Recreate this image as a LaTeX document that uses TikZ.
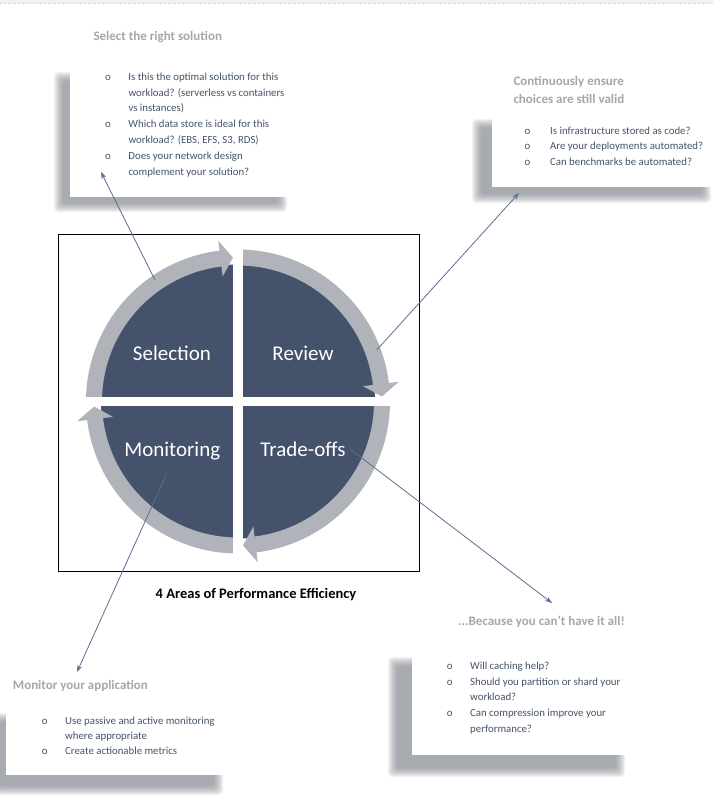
\documentclass[tikz,border=0pt]{standalone}
\usepackage{fontspec}
\setmainfont{Carlito}
\usetikzlibrary{arrows.meta}
\definecolor{darkq}{HTML}{45526B}
\definecolor{ringc}{HTML}{B0B3B9}
\definecolor{itemc}{HTML}{44546A}
\definecolor{titlec}{HTML}{A3A7AE}
\definecolor{connc}{HTML}{5C6E90}
\definecolor{shadc}{HTML}{80848C}
\definecolor{topband}{HTML}{EEF0F2}
\newcommand\mkshadow[4]{%
  \foreach \k in {0,...,9}{%
    \fill[shadc, opacity=0.1, rounded corners=4pt] (#1-5+\k, #2-5+\k) rectangle (#3+5-\k, #4+5-\k);
  }}
\newcommand\ringarrow[3]{%
  \fill[ringc] (#1:152pt) arc[start angle=#1, end angle=#2, radius=152pt]
     -- (#2:162pt) -- (#3:144pt) -- (#2:126pt) -- (#2:136pt)
     arc[start angle=#2, end angle=#1, radius=136pt] -- cycle;}
\tikzset{
  itemlist/.style={anchor=base west, inner sep=0pt, text=itemc, font=\fontsize{10.8}{15.8}\selectfont},
  cardtitle/.style={anchor=base west, inner sep=0pt, text=titlec, font=\bfseries\fontsize{13}{17.5}\selectfont},
  quadlabel/.style={anchor=base, inner sep=0pt, text=white, font=\fontsize{21}{24}\selectfont},
  conn/.style={draw=connc, line width=0.8pt, -{Stealth[length=7pt,width=5pt]}},
  card/.style={fill=white}
}
\begin{document}
\begin{tikzpicture}[x=1pt, y=-1pt]
\useasboundingbox (0,0) rectangle (713,809);
\fill[white] (0,0) rectangle (713,809);
% top band
\fill[topband] (0,0) rectangle (713,3);
\draw[dotted, gray!45, line width=0.5pt] (0,3.4) -- (713,3.4);

% shadows and cards
\mkshadow{59}{77}{282}{207}
\fill[card] (70,62) rectangle (300,197);
\mkshadow{477}{124}{706}{198}
\fill[card] (492,110) rectangle (713,187);
\mkshadow{393}{662}{620}{772}
\fill[card] (412,640) rectangle (650,755);
\mkshadow{-4}{718}{218}{790}
\fill[card] (6,700) rectangle (240,775);

% titles
\node[cardtitle] (tlTitle) at (93.3,40) {Select the right solution};
\node[cardtitle] (trTitle) at (513.3,85.5) {\begin{tabular}[t]{@{}l@{}}Continuously ensure\\choices are still valid\end{tabular}};
\node[cardtitle] (brTitle) at (458,625.5) {...Because you can’t have it all!};
\node[cardtitle] (blTitle) at (12.7,689) {Monitor your application};

% item lists
\node[itemlist] (tlItems) at (105,80.2) {\begin{tabular}[t]{@{}p{23.3pt}@{}l@{}}
o & Is this the optimal solution for this\\
  & workload? (serverless vs containers\\
  & vs instances)\\
o & Which data store is ideal for this\\
  & workload? (EBS, EFS, S3, RDS)\\
o & Does your network design\\
  & complement your solution?
\end{tabular}};
\node[itemlist] (trItems) at (524.5,134) {\begin{tabular}[t]{@{}p{25.5pt}@{}l@{}}
o & Is infrastructure stored as code?\\
o & Are your deployments automated?\\
o & Can benchmarks be automated?
\end{tabular}};
\node[itemlist] (brItems) at (446.7,669.2) {\begin{tabular}[t]{@{}p{23.3pt}@{}l@{}}
o & Will caching help?\\
o & Should you partition or shard your\\
  & workload?\\
o & Can compression improve your\\
  & performance?
\end{tabular}};
\node[itemlist, font=\fontsize{10.8}{15.2}\selectfont] (blItems) at (41.7,724.2) {\begin{tabular}[t]{@{}p{23.3pt}@{}l@{}}
o & Use passive and active monitoring\\
  & where appropriate\\
o & Create actionable metrics
\end{tabular}};

% frame
\draw[black, line width=0.9pt] (58.5,234.5) rectangle (419,571);

% circle
\begin{scope}[shift={(238,401.5)}]
  \fill[darkq] (0pt,0pt) circle[radius=137pt];
  \ringarrow{180}{97}{92}
  \ringarrow{90}{7}{2}
  \ringarrow{0}{-83}{-88}
  \ringarrow{-90}{-173}{-178}
  \fill[white] (-5pt,-166pt) rectangle (5pt,166pt);
  \fill[white] (-166pt,-4.7pt) rectangle (166pt,4.7pt);
\end{scope}

% quadrant labels
\node[quadlabel] (selection) at (172,360) {Selection};
\node[quadlabel] (review) at (303,360) {Review};
\node[quadlabel] (monitoring) at (172.3,456) {Monitoring};
\node[quadlabel] (tradeoffs) at (303,456) {Trade-offs};

% caption
\node[anchor=base, inner sep=0pt, font=\bfseries\fontsize{14.5}{17}\selectfont] (caption) at (256,598) {4 Areas of Performance Efficiency};

% connectors
\coordinate (selP) at (155,280);
\coordinate (tlTip) at (101,172);
\coordinate (revP) at (376.7,350);
\coordinate (trTip) at (519,193);
\coordinate (trdP) at (350,449);
\coordinate (brTip) at (552,603);
\coordinate (monP) at (167,473);
\coordinate (blTip) at (77,672);
\draw[conn] (selP) -- (tlTip);
\draw[conn] (revP) -- (trTip);
\draw[conn] (trdP) -- (brTip);
\draw[conn] (monP) -- (blTip);
\end{tikzpicture}
\end{document}
